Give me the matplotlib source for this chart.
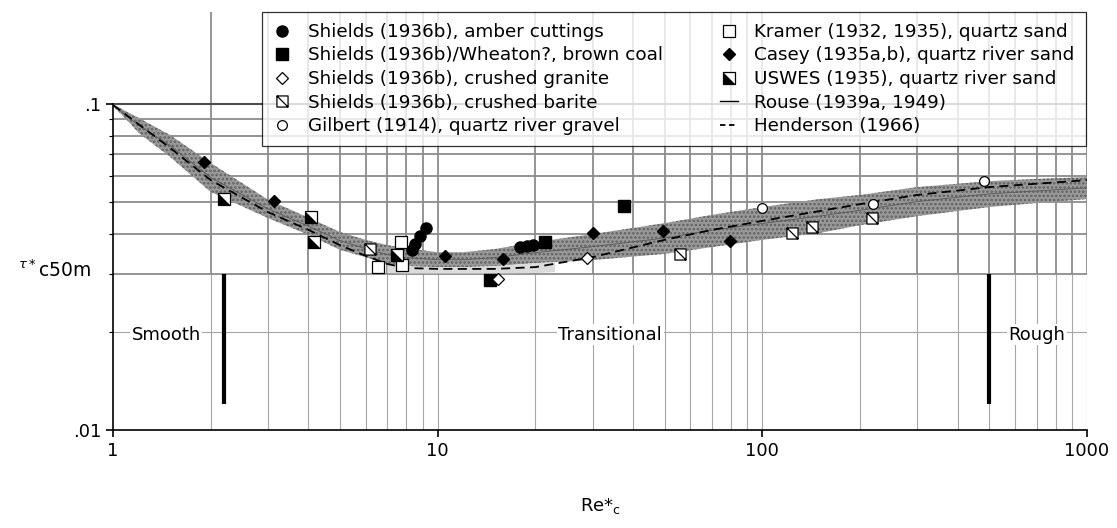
import matplotlib
matplotlib.use("Agg")
import matplotlib.pyplot as plt
from matplotlib.path import Path
from matplotlib.lines import Line2D

plt.rcParams["font.family"] = ["DejaVu Sans"]
plt.rcParams["hatch.linewidth"] = 1.2

# Band (Rouse 1939 curve with its scatter width)
band_re = [1, 1.1, 1.2, 1.5, 2, 3, 4, 5, 6, 7, 8, 10, 12, 15, 20, 30, 50, 70, 100, 150, 200, 300, 500, 700, 1000]
band_upper = [0.100, 0.0948, 0.0906, 0.0803, 0.0659, 0.0509, 0.0448, 0.0405, 0.0383, 0.0369, 0.0361, 0.0351,
              0.0351, 0.0359, 0.0377, 0.0399, 0.0431, 0.0457, 0.0483, 0.0511, 0.0526, 0.0556, 0.0580, 0.0589, 0.0597]
band_lower = [0.0985, 0.0896, 0.0815, 0.0688, 0.0537, 0.0447, 0.0397, 0.0357, 0.0339, 0.0323, 0.0318, 0.0316,
              0.0316, 0.0318, 0.0325, 0.0332, 0.0347, 0.0364, 0.0383, 0.0402, 0.0425, 0.0453, 0.0483, 0.0497, 0.0511]
rouse_tau = [0.0995, 0.092, 0.086, 0.0745, 0.0595, 0.0477, 0.0422, 0.0381, 0.036, 0.0345, 0.0338, 0.0333,
             0.0333, 0.0338, 0.035, 0.0365, 0.0388, 0.041, 0.043, 0.0453, 0.0472, 0.0502, 0.053, 0.0541, 0.0553]

# lighter strip under the band minimum
strip_re = [7, 8, 10, 12, 15, 20, 23]
strip_top = [0.0323, 0.0318, 0.0316, 0.0316, 0.0318, 0.0325, 0.0327]
strip_bot = [0.0303, 0.0302, 0.0302, 0.0302, 0.0302, 0.0303, 0.0305]

# Henderson (1966)
hend_re = [1, 1.5, 2, 3, 4, 5, 6, 7, 8, 10, 15, 20, 30, 50, 70, 100, 200, 300, 500, 1000]
hend_tau = [0.0993, 0.0733, 0.0584, 0.0466, 0.0411, 0.0369, 0.0342, 0.0323, 0.0314, 0.0312, 0.0312, 0.0316,
            0.0339, 0.0383, 0.0411, 0.0438, 0.0493, 0.0526, 0.0556, 0.0584]

# data sets
amber_re = [8.35, 8.52, 8.83, 9.22, 17.96, 18.9, 19.7]
amber_tau = [0.0357, 0.0372, 0.0394, 0.0417, 0.0364, 0.0368, 0.0369]
coal_re = [14.5, 21.4, 37.6]
coal_tau = [0.0288, 0.0377, 0.0487]
granite_re = [15.3, 28.9]
granite_tau = [0.0290, 0.0337]
barite_re = [6.19, 55.9, 123.7, 142.6, 218]
barite_tau = [0.0359, 0.0347, 0.0402, 0.0420, 0.0447]
gilbert_re = [99.5, 219.8, 480]
gilbert_tau = [0.0480, 0.0493, 0.0580]
kramer_re = [6.56, 7.77, 7.7]
kramer_tau = [0.0316, 0.0320, 0.0377]
casey_re = [1.91, 3.13, 10.5, 15.9, 30.1, 49.5, 79.7]
casey_tau = [0.0664, 0.0503, 0.0342, 0.0335, 0.0402, 0.0408, 0.0380]
uswes_re = [2.2, 4.07, 4.16, 7.5]
uswes_tau = [0.0511, 0.0450, 0.0377, 0.0344]

# regime boundaries and names
bound_re = [2.2, 500]
bound_lo, bound_hi = 0.012, 0.03
regime_names = ["Smooth", "Transitional", "Rough"]
regime_re = [1.46, 34, 700]
regime_tau = 0.0196

grid_re = [2, 3, 4, 5, 6, 7, 8, 9, 10, 20, 30, 40, 50, 60, 70, 80, 90, 100,
           200, 300, 400, 500, 600, 700, 800, 900, 1000]
grid_tau = [0.03, 0.04, 0.05, 0.06, 0.07, 0.08, 0.09]

ymax = 0.1915

fig = plt.figure(figsize=(11.17, 5.28), dpi=100)
ax = fig.add_axes([113 / 1117, 1 - 430 / 528, 974 / 1117, 418 / 528])
ax.set_xscale("log")
ax.set_yscale("log")
ax.set_xlim(1, 1000)
ax.set_ylim(0.01, ymax)

# grid
ax.vlines(grid_re, 0.01, 0.03, color="0.65", lw=0.8, zorder=1)
ax.vlines(grid_re, 0.03, ymax, color="0.55", lw=1.3, zorder=1)
ax.hlines(grid_tau, 1, 1000, color="0.55", lw=1.3, zorder=1)
ax.hlines([0.02], 1, 1000, color="0.65", lw=0.8, zorder=1)
ax.hlines([0.1], 1, 1000, color="0.3", lw=1.5, zorder=1)

# band
ax.fill_between(band_re, band_lower, band_upper, facecolor="0.6", edgecolor="0.38",
                hatch="....", lw=0, zorder=2)
ax.fill_between(strip_re, strip_bot, strip_top, facecolor="0.86", lw=0, zorder=2)
ax.plot(band_re, rouse_tau, color="0.35", lw=0.6, zorder=3)
ax.plot(hend_re, hend_tau, color="black", lw=1.3, dashes=(5, 3), zorder=3)

barite_mk = Path([(-1, -1), (1, -1), (1, 1), (-1, 1), (-1, -1), (-1, 1), (1, -1)],
                 [Path.MOVETO, Path.LINETO, Path.LINETO, Path.LINETO, Path.CLOSEPOLY,
                  Path.MOVETO, Path.LINETO])
tri_mk = Path([(-1, 1), (-1, -1), (1, -1), (-1, 1)],
              [Path.MOVETO, Path.LINETO, Path.LINETO, Path.CLOSEPOLY])

h_amber, = ax.plot(amber_re, amber_tau, "o", color="black", ms=8, ls="none", zorder=4)
h_coal, = ax.plot(coal_re, coal_tau, "s", color="black", ms=9, ls="none", zorder=4)
h_granite, = ax.plot(granite_re, granite_tau, "D", mfc="white", mec="black", mew=0.9, ms=6, ls="none", zorder=4)
h_barite, = ax.plot(barite_re, barite_tau, marker=barite_mk, mfc="white", mec="black", mew=0.9, ms=8,
                    ls="none", zorder=4)
h_gilbert, = ax.plot(gilbert_re, gilbert_tau, "o", mfc="white", mec="black", mew=0.9, ms=7, ls="none", zorder=4)
h_kramer, = ax.plot(kramer_re, kramer_tau, "s", mfc="white", mec="black", mew=0.9, ms=8, ls="none", zorder=4)
h_casey, = ax.plot(casey_re, casey_tau, "D", color="black", ms=6, ls="none", zorder=4)
h_usw1, = ax.plot(uswes_re, uswes_tau, "s", mfc="white", mec="black", mew=0.9, ms=8, ls="none", zorder=4)
h_usw2, = ax.plot(uswes_re, uswes_tau, marker=tri_mk, color="black", mew=0, ms=8, ls="none", zorder=4)
h_rouse = Line2D([], [], color="black", lw=1.0)
h_hend = Line2D([], [], color="black", lw=1.3, dashes=(3, 2))

# regime boundaries and labels
ax.vlines(bound_re, bound_lo, bound_hi, color="black", lw=3, zorder=4)
for name, x in zip(regime_names, regime_re):
    ax.text(x, regime_tau, name, ha="center", va="center", fontsize=13, zorder=5,
            bbox=dict(facecolor="white", edgecolor="none", pad=1))

# axes styling
for s in ["top", "right"]:
    ax.spines[s].set_visible(False)
ax.spines["left"].set_bounds(0.01, 0.1)
ax.spines["left"].set_linewidth(1.2)
ax.spines["bottom"].set_linewidth(1.2)
ax.set_xticks([1, 10, 100, 1000])
ax.set_xticklabels(["1", "10", "100", "1000"])
ax.set_yticks([0.01, 0.1])
ax.set_yticklabels([".01", ".1"])
ax.set_yticks([0.02, 0.03, 0.04, 0.05, 0.06, 0.07, 0.08, 0.09], minor=True)
ax.set_yticklabels([], minor=True)
ax.set_xticks([], minor=True)
ax.tick_params(which="major", length=5, width=1.2, labelsize=13)
ax.tick_params(which="minor", length=3, width=0.8)

ax.set_xlabel(r"Re*$_{\rm c}$", fontsize=13, labelpad=26)
fig.text(18 / 1117, 1 - 270 / 528, r"$^{\tau*}$c50m", fontsize=13.5, va="center", ha="left")

leg = ax.legend(
    [h_amber, h_coal, h_granite, h_barite, h_gilbert,
     h_kramer, h_casey, (h_usw1, h_usw2), h_rouse, h_hend],
    ["Shields (1936b), amber cuttings", "Shields (1936b)/Wheaton?, brown coal",
     "Shields (1936b), crushed granite", "Shields (1936b), crushed barite",
     "Gilbert (1914), quartz river gravel",
     "Kramer (1932, 1935), quartz sand", "Casey (1935a,b), quartz river sand",
     "USWES (1935), quartz river sand", "Rouse (1939a, 1949)", "Henderson (1966)"],
    ncol=2, loc="upper left", bbox_to_anchor=(262 / 1117, 1 - 12 / 528),
    bbox_transform=fig.transFigure, borderaxespad=0, fontsize=13.2, frameon=True,
    fancybox=False, edgecolor="black", numpoints=1, handlelength=1.0,
    handletextpad=0.9, columnspacing=3.1, labelspacing=0.3, borderpad=0.6,
)
leg.get_frame().set_linewidth(0.9)
leg.set_zorder(6)

fig.savefig("out.png", dpi=100)
